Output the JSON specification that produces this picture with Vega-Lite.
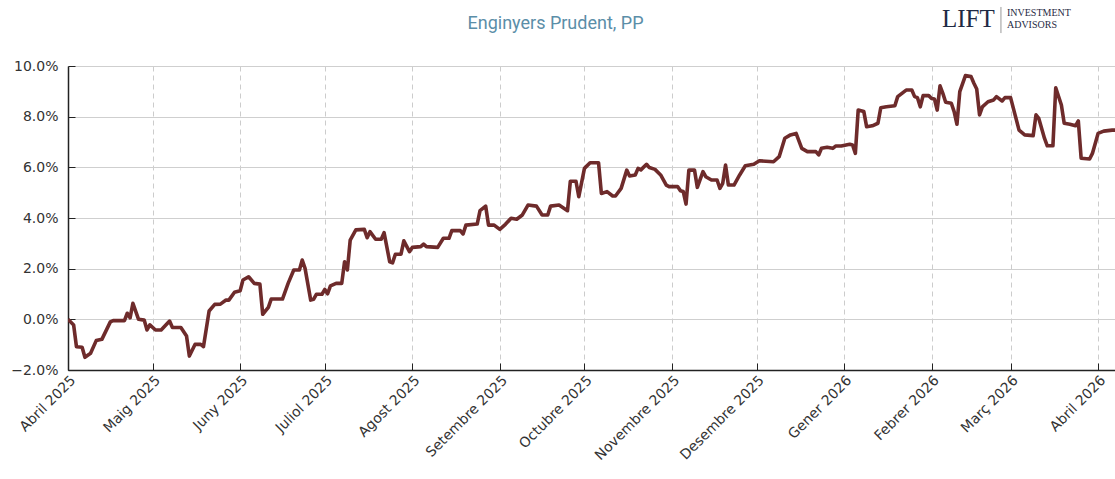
{
  "$schema": "https://vega.github.io/schema/vega-lite/v6.json",
  "width": 1047,
  "height": 304,
  "autosize": {"type": "none"},
  "padding": {"left": 68, "top": 66, "right": 0, "bottom": 109},
  "background": "white",
  "config": {"view": {"stroke": null}, "font": "DejaVu Sans"},
  "title": {
    "text": "Enginyers Prudent, PP",
    "anchor": "middle",
    "frame": "group",
    "dx": -36,
    "font": "Roboto",
    "fontSize": 18,
    "fontWeight": "normal",
    "color": "#5b8ea8",
    "offset": -27
  },
  "datasets": {
    "perf": [
      {"d":"2025-04-01","v":0.0},{"d":"2025-04-03","v":-0.22},{"d":"2025-04-04","v":-1.08},{"d":"2025-04-06","v":-1.10},
      {"d":"2025-04-07","v":-1.50},{"d":"2025-04-09","v":-1.34},{"d":"2025-04-11","v":-0.84},{"d":"2025-04-13","v":-0.79},
      {"d":"2025-04-16","v":-0.10},{"d":"2025-04-17","v":-0.05},{"d":"2025-04-21","v":-0.05},{"d":"2025-04-22","v":0.24},
      {"d":"2025-04-23","v":0.06},{"d":"2025-04-24","v":0.63},{"d":"2025-04-26","v":0.00},{"d":"2025-04-28","v":-0.03},
      {"d":"2025-04-29","v":-0.42},{"d":"2025-04-30","v":-0.22},{"d":"2025-05-02","v":-0.42},{"d":"2025-05-04","v":-0.42},
      {"d":"2025-05-07","v":-0.07},{"d":"2025-05-08","v":-0.32},{"d":"2025-05-11","v":-0.32},{"d":"2025-05-13","v":-0.66},
      {"d":"2025-05-14","v":-1.45},{"d":"2025-05-16","v":-0.99},{"d":"2025-05-18","v":-0.99},{"d":"2025-05-19","v":-1.08},
      {"d":"2025-05-21","v":0.33},{"d":"2025-05-23","v":0.59},{"d":"2025-05-25","v":0.60},{"d":"2025-05-27","v":0.76},
      {"d":"2025-05-28","v":0.76},{"d":"2025-05-30","v":1.07},{"d":"2025-06-01","v":1.13},{"d":"2025-06-02","v":1.55},
      {"d":"2025-06-04","v":1.68},{"d":"2025-06-06","v":1.42},{"d":"2025-06-08","v":1.39},{"d":"2025-06-09","v":0.20},
      {"d":"2025-06-11","v":0.47},{"d":"2025-06-12","v":0.80},{"d":"2025-06-16","v":0.80},{"d":"2025-06-18","v":1.42},
      {"d":"2025-06-20","v":1.95},{"d":"2025-06-22","v":1.95},{"d":"2025-06-23","v":2.34},{"d":"2025-06-24","v":2.01},
      {"d":"2025-06-26","v":0.76},{"d":"2025-06-27","v":0.79},{"d":"2025-06-28","v":0.99},{"d":"2025-06-30","v":0.99},
      {"d":"2025-07-01","v":1.18},{"d":"2025-07-02","v":1.01},{"d":"2025-07-03","v":1.32},{"d":"2025-07-05","v":1.42},
      {"d":"2025-07-07","v":1.42},{"d":"2025-07-08","v":2.27},{"d":"2025-07-09","v":1.95},{"d":"2025-07-10","v":3.13},
      {"d":"2025-07-12","v":3.53},{"d":"2025-07-15","v":3.55},{"d":"2025-07-16","v":3.22},{"d":"2025-07-17","v":3.46},
      {"d":"2025-07-19","v":3.16},{"d":"2025-07-21","v":3.16},{"d":"2025-07-22","v":3.42},{"d":"2025-07-24","v":2.27},
      {"d":"2025-07-25","v":2.23},{"d":"2025-07-26","v":2.57},{"d":"2025-07-28","v":2.57},{"d":"2025-07-29","v":3.10},
      {"d":"2025-07-31","v":2.67},{"d":"2025-08-01","v":2.84},{"d":"2025-08-04","v":2.87},{"d":"2025-08-05","v":2.97},
      {"d":"2025-08-06","v":2.87},{"d":"2025-08-10","v":2.84},{"d":"2025-08-12","v":3.20},{"d":"2025-08-14","v":3.20},
      {"d":"2025-08-15","v":3.50},{"d":"2025-08-18","v":3.50},{"d":"2025-08-19","v":3.37},{"d":"2025-08-20","v":3.72},
      {"d":"2025-08-24","v":3.76},{"d":"2025-08-25","v":4.29},{"d":"2025-08-27","v":4.47},{"d":"2025-08-28","v":3.72},
      {"d":"2025-08-30","v":3.72},{"d":"2025-09-01","v":3.55},{"d":"2025-09-03","v":3.75},{"d":"2025-09-05","v":3.99},
      {"d":"2025-09-07","v":3.95},{"d":"2025-09-09","v":4.12},{"d":"2025-09-11","v":4.51},{"d":"2025-09-14","v":4.47},
      {"d":"2025-09-16","v":4.12},{"d":"2025-09-18","v":4.12},{"d":"2025-09-19","v":4.47},{"d":"2025-09-22","v":4.51},
      {"d":"2025-09-25","v":4.29},{"d":"2025-09-26","v":5.45},{"d":"2025-09-28","v":5.45},{"d":"2025-09-29","v":4.84},
      {"d":"2025-10-01","v":5.96},{"d":"2025-10-03","v":6.18},{"d":"2025-10-06","v":6.18},{"d":"2025-10-07","v":4.97},
      {"d":"2025-10-09","v":5.04},{"d":"2025-10-11","v":4.87},{"d":"2025-10-12","v":4.87},{"d":"2025-10-14","v":5.17},
      {"d":"2025-10-16","v":5.89},{"d":"2025-10-17","v":5.66},{"d":"2025-10-19","v":5.70},{"d":"2025-10-20","v":5.96},
      {"d":"2025-10-21","v":5.90},{"d":"2025-10-23","v":6.12},{"d":"2025-10-24","v":5.99},{"d":"2025-10-26","v":5.92},
      {"d":"2025-10-28","v":5.70},{"d":"2025-10-30","v":5.30},{"d":"2025-10-31","v":5.24},{"d":"2025-11-03","v":5.24},
      {"d":"2025-11-04","v":5.08},{"d":"2025-11-05","v":5.05},{"d":"2025-11-06","v":4.55},{"d":"2025-11-07","v":5.89},
      {"d":"2025-11-09","v":5.89},{"d":"2025-11-10","v":5.21},{"d":"2025-11-12","v":5.83},{"d":"2025-11-13","v":5.63},
      {"d":"2025-11-15","v":5.50},{"d":"2025-11-17","v":5.50},{"d":"2025-11-18","v":5.17},{"d":"2025-11-19","v":5.37},
      {"d":"2025-11-20","v":6.09},{"d":"2025-11-21","v":5.30},{"d":"2025-11-23","v":5.30},{"d":"2025-11-25","v":5.70},
      {"d":"2025-11-27","v":6.06},{"d":"2025-11-30","v":6.12},{"d":"2025-12-02","v":6.26},{"d":"2025-12-07","v":6.22},
      {"d":"2025-12-09","v":6.42},{"d":"2025-12-11","v":7.15},{"d":"2025-12-13","v":7.28},{"d":"2025-12-15","v":7.34},
      {"d":"2025-12-17","v":6.75},{"d":"2025-12-19","v":6.62},{"d":"2025-12-22","v":6.62},{"d":"2025-12-23","v":6.49},
      {"d":"2025-12-24","v":6.75},{"d":"2025-12-26","v":6.79},{"d":"2025-12-28","v":6.75},{"d":"2025-12-29","v":6.84},
      {"d":"2025-12-31","v":6.84},{"d":"2026-01-03","v":6.91},{"d":"2026-01-04","v":6.88},{"d":"2026-01-05","v":6.55},
      {"d":"2026-01-06","v":8.26},{"d":"2026-01-08","v":8.20},{"d":"2026-01-09","v":7.60},{"d":"2026-01-11","v":7.64},
      {"d":"2026-01-13","v":7.74},{"d":"2026-01-14","v":8.35},{"d":"2026-01-16","v":8.39},{"d":"2026-01-19","v":8.43},
      {"d":"2026-01-20","v":8.79},{"d":"2026-01-23","v":9.05},{"d":"2026-01-25","v":9.05},{"d":"2026-01-26","v":8.79},
      {"d":"2026-01-27","v":8.75},{"d":"2026-01-28","v":8.39},{"d":"2026-01-29","v":8.83},{"d":"2026-01-31","v":8.83},
      {"d":"2026-02-01","v":8.72},{"d":"2026-02-02","v":8.70},{"d":"2026-02-03","v":8.26},{"d":"2026-02-04","v":9.22},
      {"d":"2026-02-05","v":8.92},{"d":"2026-02-06","v":8.57},{"d":"2026-02-08","v":8.53},{"d":"2026-02-09","v":8.20},
      {"d":"2026-02-10","v":7.70},{"d":"2026-02-11","v":8.99},{"d":"2026-02-13","v":9.62},{"d":"2026-02-15","v":9.58},
      {"d":"2026-02-16","v":9.32},{"d":"2026-02-17","v":9.09},{"d":"2026-02-18","v":8.07},{"d":"2026-02-19","v":8.39},
      {"d":"2026-02-21","v":8.59},{"d":"2026-02-23","v":8.66},{"d":"2026-02-24","v":8.79},{"d":"2026-02-26","v":8.62},
      {"d":"2026-02-27","v":8.75},{"d":"2026-03-01","v":8.75},{"d":"2026-03-04","v":7.47},{"d":"2026-03-06","v":7.28},
      {"d":"2026-03-09","v":7.25},{"d":"2026-03-10","v":8.07},{"d":"2026-03-11","v":7.93},{"d":"2026-03-13","v":7.15},
      {"d":"2026-03-14","v":6.85},{"d":"2026-03-16","v":6.85},{"d":"2026-03-17","v":9.14},{"d":"2026-03-19","v":8.46},
      {"d":"2026-03-20","v":7.74},{"d":"2026-03-22","v":7.70},{"d":"2026-03-24","v":7.64},{"d":"2026-03-25","v":7.83},
      {"d":"2026-03-26","v":6.36},{"d":"2026-03-29","v":6.33},{"d":"2026-03-30","v":6.55},{"d":"2026-04-01","v":7.34},
      {"d":"2026-04-03","v":7.43},{"d":"2026-04-06","v":7.47},{"d":"2026-04-07","v":7.47}
    ]
  },
  "layer": [
    {
      "data": {"name": "perf"},
      "mark": {"type": "line", "color": "#6e2b2b", "strokeWidth": 3.6, "clip": true, "strokeJoin": "round"},
      "encoding": {
        "x": {
          "field": "d", "type": "temporal",
          "scale": {"type": "utc", "domain": [{"year": 2025, "month": 4, "date": 1, "utc": true}, {"year": 2026, "month": 4, "date": 7, "utc": true}]},
          "axis": {
            "title": null,
            "values": [
              {"year": 2025, "month": 4, "date": 1, "utc": true}, {"year": 2025, "month": 5, "date": 1, "utc": true},
              {"year": 2025, "month": 6, "date": 1, "utc": true}, {"year": 2025, "month": 7, "date": 1, "utc": true},
              {"year": 2025, "month": 8, "date": 1, "utc": true}, {"year": 2025, "month": 9, "date": 1, "utc": true},
              {"year": 2025, "month": 10, "date": 1, "utc": true}, {"year": 2025, "month": 11, "date": 1, "utc": true},
              {"year": 2025, "month": 12, "date": 1, "utc": true}, {"year": 2026, "month": 1, "date": 1, "utc": true},
              {"year": 2026, "month": 2, "date": 1, "utc": true}, {"year": 2026, "month": 3, "date": 1, "utc": true},
              {"year": 2026, "month": 4, "date": 1, "utc": true}
            ],
            "labelExpr": "['Gener','Febrer','Març','Abril','Maig','Juny','Juliol','Agost','Setembre','Octubre','Novembre','Desembre'][utcmonth(datum.value)] + ' ' + utcyear(datum.value)",
            "labelAngle": -45,
            "labelAlign": "right",
            "labelBaseline": "top",
            "labelFontSize": 14,
            "labelColor": "#333333",
            "labelPadding": 10,
            "labelFlush": false,
            "labelOverlap": false,
            "domainColor": "#222222",
            "domainWidth": 1.5,
            "tickColor": "#222222",
            "tickSize": -7,
            "grid": true,
            "gridColor": "#cccccc",
            "gridDash": [5, 4],
            "gridWidth": 1
          }
        },
        "y": {
          "field": "v", "type": "quantitative",
          "scale": {"domain": [-2, 10], "nice": false, "zero": false},
          "axis": {
            "title": null,
            "values": [-2, -1, 0, 1, 2, 3, 4, 5, 6, 7, 8, 9, 10],
            "labelExpr": "datum.value % 2 == 0 ? format(datum.value, '.1f') + '%' : ''",
            "labelFontSize": 14,
            "labelColor": "#333333",
            "labelPadding": 17,
            "domainColor": "#222222",
            "domainWidth": 1.5,
            "tickColor": "#222222",
            "tickSize": -7,
            "grid": true,
            "gridColor": {"condition": {"test": "datum.value % 2 == 0", "value": "#cfcfcf"}, "value": "#dddddd"},
            "gridDash": {"condition": {"test": "datum.value % 2 == 0", "value": []}, "value": [5, 4]},
            "gridWidth": 1.2
          }
        }
      }
    },
    {
      "data": {"values": [{}]},
      "mark": {"type": "text", "text": "LIFT", "font": "Liberation Serif", "fontSize": 25, "color": "#1f2a44", "align": "left", "baseline": "alphabetic"},
      "encoding": {
        "x": {"datum": {"year": 2026, "month": 2, "date": 4, "hours": 17, "utc": true}, "type": "temporal"},
        "y": {"datum": 11.54, "type": "quantitative"}
      }
    },
    {
      "data": {"values": [{}]},
      "mark": {"type": "rule", "color": "#999999", "strokeWidth": 1},
      "encoding": {
        "x": {"datum": {"year": 2026, "month": 2, "date": 25, "hours": 14, "utc": true}, "type": "temporal"},
        "y": {"datum": 12.33, "type": "quantitative"},
        "y2": {"datum": 11.3}
      }
    },
    {
      "data": {"values": [{}]},
      "mark": {"type": "text", "text": "INVESTMENT", "font": "Liberation Serif", "fontSize": 10, "color": "#1f2a44", "align": "left", "baseline": "alphabetic"},
      "encoding": {
        "x": {"datum": {"year": 2026, "month": 2, "date": 27, "hours": 17, "utc": true}, "type": "temporal"},
        "y": {"datum": 11.97, "type": "quantitative"}
      }
    },
    {
      "data": {"values": [{}]},
      "mark": {"type": "text", "text": "ADVISORS", "font": "Liberation Serif", "fontSize": 10, "color": "#1f2a44", "align": "left", "baseline": "alphabetic"},
      "encoding": {
        "x": {"datum": {"year": 2026, "month": 2, "date": 27, "hours": 17, "utc": true}, "type": "temporal"},
        "y": {"datum": 11.5, "type": "quantitative"}
      }
    }
  ]
}
